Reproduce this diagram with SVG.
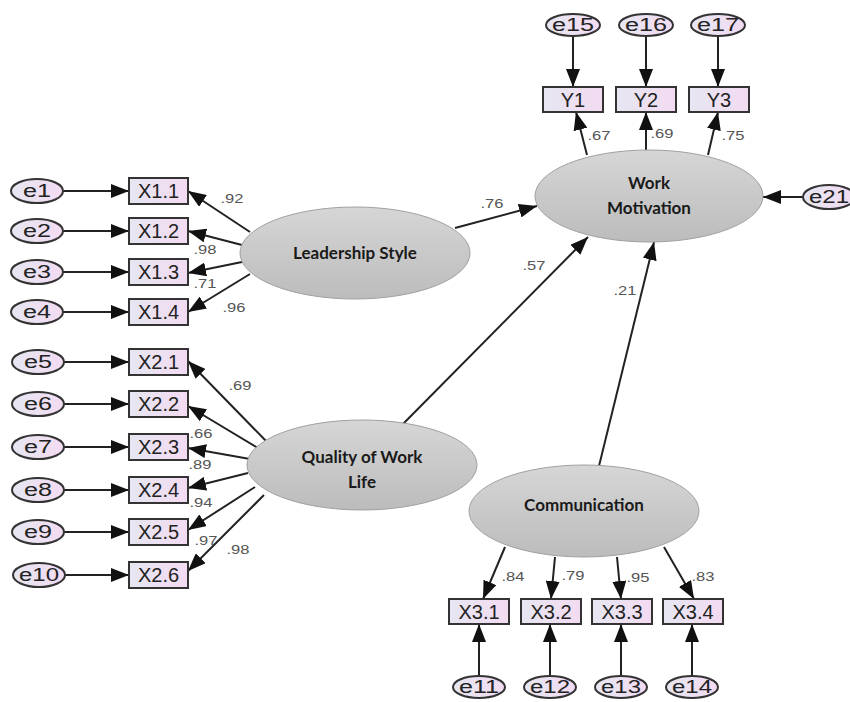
<svg xmlns="http://www.w3.org/2000/svg" width="850" height="702" viewBox="0 0 850 702">
<style>
.obs{fill:url(#gObs);stroke:#333;stroke-width:2}
.err{fill:url(#gObs);stroke:#333;stroke-width:2}
.lat{fill:url(#gLat);stroke:#a0a0a0;stroke-width:1}
.t{font-family:"Liberation Sans",Arial,sans-serif;font-size:20px;fill:#222;text-anchor:middle}
.te{font-family:"Liberation Sans",Arial,sans-serif;font-size:18px;fill:#222;text-anchor:middle}
.tl{font-family:Lato,"Open Sans",sans-serif;font-size:17px;font-weight:bold;fill:#1a1a1a;text-anchor:middle}
.n{font-family:"Liberation Sans",Arial,sans-serif;font-size:13px;fill:#555;text-anchor:middle}
.c{stroke:#222;stroke-width:2;fill:none;marker-end:url(#ah)}
</style>
<defs>
<linearGradient id="gObs" x1="0" y1="0" x2="1" y2="0"><stop offset="0" stop-color="#e6e6f2"/><stop offset="1" stop-color="#f3dbf1"/></linearGradient>
<linearGradient id="gLat" x1="0" y1="0" x2="0" y2="1"><stop offset="0" stop-color="#d6d6d6"/><stop offset="1" stop-color="#bcbcbc"/></linearGradient>
<marker id="ah" markerUnits="userSpaceOnUse" markerWidth="18" markerHeight="14" refX="18" refY="7" orient="auto"><path d="M0,0 L18,7 L0,14 z" fill="#111"/></marker>
</defs>
<rect width="850" height="702" fill="#fff"/>

<g id="connectors">
<line class="c" x1="63" y1="191" x2="129" y2="191"/>
<line class="c" x1="63" y1="231" x2="129" y2="231"/>
<line class="c" x1="63" y1="272" x2="129" y2="272"/>
<line class="c" x1="63" y1="312" x2="129" y2="312"/>
<line class="c" x1="64" y1="362" x2="129" y2="362"/>
<line class="c" x1="64" y1="404" x2="129" y2="404"/>
<line class="c" x1="64" y1="447" x2="129" y2="447"/>
<line class="c" x1="64" y1="490" x2="129" y2="490"/>
<line class="c" x1="64" y1="532" x2="129" y2="532"/>
<line class="c" x1="65" y1="575" x2="129" y2="575"/>
<line class="c" x1="250" y1="232" x2="188" y2="191"/>
<line class="c" x1="242" y1="245" x2="188" y2="231"/>
<line class="c" x1="242" y1="262" x2="188" y2="273"/>
<line class="c" x1="250" y1="274" x2="188" y2="312"/>
<line class="c" x1="267" y1="442" x2="188" y2="361"/>
<line class="c" x1="258" y1="448" x2="188" y2="406"/>
<line class="c" x1="250" y1="459" x2="188" y2="448"/>
<line class="c" x1="248" y1="473" x2="188" y2="488"/>
<line class="c" x1="255" y1="487" x2="188" y2="530"/>
<line class="c" x1="264" y1="495" x2="188" y2="571"/>
<line class="c" x1="455" y1="228" x2="537" y2="206"/>
<line class="c" x1="402" y1="425" x2="588" y2="237"/>
<line class="c" x1="599" y1="466" x2="654" y2="242"/>
<line class="c" x1="803" y1="197" x2="763" y2="197"/>
<line class="c" x1="587" y1="155" x2="576" y2="112"/>
<line class="c" x1="646" y1="150" x2="646" y2="112"/>
<line class="c" x1="708" y1="155" x2="718" y2="112"/>
<line class="c" x1="573" y1="36" x2="573" y2="87"/>
<line class="c" x1="646" y1="36" x2="646" y2="87"/>
<line class="c" x1="718" y1="36" x2="718" y2="87"/>
<line class="c" x1="505" y1="547" x2="483" y2="599"/>
<line class="c" x1="555" y1="557" x2="551" y2="599"/>
<line class="c" x1="617" y1="557" x2="621" y2="599"/>
<line class="c" x1="664" y1="547" x2="694" y2="599"/>
<line class="c" x1="479" y1="676" x2="479" y2="624"/>
<line class="c" x1="550" y1="676" x2="550" y2="624"/>
<line class="c" x1="621" y1="676" x2="621" y2="624"/>
<line class="c" x1="692" y1="676" x2="692" y2="624"/>

<text class="n" x="232" y="203" textLength="23" lengthAdjust="spacingAndGlyphs">.92</text>
<text class="n" x="205" y="254" textLength="23" lengthAdjust="spacingAndGlyphs">.98</text>
<text class="n" x="205" y="288" textLength="23" lengthAdjust="spacingAndGlyphs">.71</text>
<text class="n" x="234" y="312" textLength="23" lengthAdjust="spacingAndGlyphs">.96</text>
<text class="n" x="240" y="390" textLength="23" lengthAdjust="spacingAndGlyphs">.69</text>
<text class="n" x="201" y="438" textLength="23" lengthAdjust="spacingAndGlyphs">.66</text>
<text class="n" x="200" y="469" textLength="23" lengthAdjust="spacingAndGlyphs">.89</text>
<text class="n" x="201" y="507" textLength="23" lengthAdjust="spacingAndGlyphs">.94</text>
<text class="n" x="206" y="545" textLength="23" lengthAdjust="spacingAndGlyphs">.97</text>
<text class="n" x="238" y="554" textLength="23" lengthAdjust="spacingAndGlyphs">.98</text>
<text class="n" x="492" y="208" textLength="23" lengthAdjust="spacingAndGlyphs">.76</text>
<text class="n" x="534" y="270" textLength="23" lengthAdjust="spacingAndGlyphs">.57</text>
<text class="n" x="625" y="295" textLength="23" lengthAdjust="spacingAndGlyphs">.21</text>
<text class="n" x="599" y="140" textLength="23" lengthAdjust="spacingAndGlyphs">.67</text>
<text class="n" x="662" y="138" textLength="23" lengthAdjust="spacingAndGlyphs">.69</text>
<text class="n" x="733" y="140" textLength="23" lengthAdjust="spacingAndGlyphs">.75</text>
<text class="n" x="513" y="581" textLength="23" lengthAdjust="spacingAndGlyphs">.84</text>
<text class="n" x="573" y="580" textLength="23" lengthAdjust="spacingAndGlyphs">.79</text>
<text class="n" x="638" y="582" textLength="23" lengthAdjust="spacingAndGlyphs">.95</text>
<text class="n" x="703" y="581" textLength="23" lengthAdjust="spacingAndGlyphs">.83</text>
</g>

<g id="leadership"><ellipse class="lat" cx="355" cy="253" rx="115" ry="46"/><text class="tl" x="355" y="259">Leadership Style</text></g>
<g id="qwl"><ellipse class="lat" cx="362" cy="465" rx="115" ry="45"/><text class="tl" x="362" y="463">Quality of Work</text><text class="tl" x="362" y="488">Life</text></g>
<g id="motivation"><ellipse class="lat" cx="649" cy="196" rx="114" ry="46"/><text class="tl" x="649" y="189">Work</text><text class="tl" x="649" y="214">Motivation</text></g>
<g id="communication"><ellipse class="lat" cx="584" cy="511" rx="115" ry="46"/><text class="tl" x="584" y="511">Communication</text></g>

<g id="X1.1"><rect class="obs" x="129" y="178" width="59" height="26"/><text class="t" x="158.5" y="198">X1.1</text></g>
<g id="X1.2"><rect class="obs" x="129" y="218" width="59" height="26"/><text class="t" x="158.5" y="238">X1.2</text></g>
<g id="X1.3"><rect class="obs" x="129" y="259" width="59" height="26"/><text class="t" x="158.5" y="279">X1.3</text></g>
<g id="X1.4"><rect class="obs" x="129" y="299" width="59" height="26"/><text class="t" x="158.5" y="319">X1.4</text></g>
<g id="e1"><ellipse class="err" cx="37" cy="191" rx="26" ry="12"/><text class="te" x="37" y="197" textLength="28" lengthAdjust="spacingAndGlyphs">e1</text></g>
<g id="e2"><ellipse class="err" cx="37" cy="231" rx="26" ry="12"/><text class="te" x="37" y="237" textLength="28" lengthAdjust="spacingAndGlyphs">e2</text></g>
<g id="e3"><ellipse class="err" cx="37" cy="272" rx="26" ry="12"/><text class="te" x="37" y="278" textLength="28" lengthAdjust="spacingAndGlyphs">e3</text></g>
<g id="e4"><ellipse class="err" cx="37" cy="312" rx="26" ry="12"/><text class="te" x="37" y="318" textLength="28" lengthAdjust="spacingAndGlyphs">e4</text></g>

<g id="X2.1"><rect class="obs" x="129" y="349" width="59" height="26"/><text class="t" x="158.5" y="369">X2.1</text></g>
<g id="X2.2"><rect class="obs" x="129" y="391" width="59" height="26"/><text class="t" x="158.5" y="411">X2.2</text></g>
<g id="X2.3"><rect class="obs" x="129" y="434" width="59" height="26"/><text class="t" x="158.5" y="454">X2.3</text></g>
<g id="X2.4"><rect class="obs" x="129" y="477" width="59" height="26"/><text class="t" x="158.5" y="497">X2.4</text></g>
<g id="X2.5"><rect class="obs" x="129" y="519" width="59" height="26"/><text class="t" x="158.5" y="539">X2.5</text></g>
<g id="X2.6"><rect class="obs" x="129" y="562" width="59" height="26"/><text class="t" x="158.5" y="582">X2.6</text></g>
<g id="e5"><ellipse class="err" cx="38" cy="362" rx="26" ry="12"/><text class="te" x="38" y="368" textLength="28" lengthAdjust="spacingAndGlyphs">e5</text></g>
<g id="e6"><ellipse class="err" cx="38" cy="404" rx="26" ry="12"/><text class="te" x="38" y="410" textLength="28" lengthAdjust="spacingAndGlyphs">e6</text></g>
<g id="e7"><ellipse class="err" cx="38" cy="447" rx="26" ry="12"/><text class="te" x="38" y="453" textLength="28" lengthAdjust="spacingAndGlyphs">e7</text></g>
<g id="e8"><ellipse class="err" cx="38" cy="490" rx="26" ry="12"/><text class="te" x="38" y="496" textLength="28" lengthAdjust="spacingAndGlyphs">e8</text></g>
<g id="e9"><ellipse class="err" cx="38" cy="532" rx="26" ry="12"/><text class="te" x="38" y="538" textLength="28" lengthAdjust="spacingAndGlyphs">e9</text></g>
<g id="e10"><ellipse class="err" cx="39" cy="575" rx="26" ry="12"/><text class="te" x="39" y="581" textLength="40" lengthAdjust="spacingAndGlyphs">e10</text></g>

<g id="Y1"><rect class="obs" x="543" y="87" width="60" height="25"/><text class="t" x="573" y="107">Y1</text></g>
<g id="Y2"><rect class="obs" x="616" y="87" width="60" height="25"/><text class="t" x="646" y="107">Y2</text></g>
<g id="Y3"><rect class="obs" x="689" y="87" width="60" height="25"/><text class="t" x="719" y="107">Y3</text></g>
<g id="e15"><ellipse class="err" cx="573" cy="25" rx="27" ry="11"/><text class="te" x="573" y="31" textLength="42" lengthAdjust="spacingAndGlyphs">e15</text></g>
<g id="e16"><ellipse class="err" cx="646" cy="25" rx="27" ry="11"/><text class="te" x="646" y="31" textLength="42" lengthAdjust="spacingAndGlyphs">e16</text></g>
<g id="e17"><ellipse class="err" cx="718" cy="25" rx="27" ry="11"/><text class="te" x="718" y="31" textLength="42" lengthAdjust="spacingAndGlyphs">e17</text></g>
<g id="e21"><ellipse class="err" cx="829" cy="197" rx="26" ry="12"/><text class="te" x="829" y="203" textLength="40" lengthAdjust="spacingAndGlyphs">e21</text></g>

<g id="X3.1"><rect class="obs" x="449" y="599" width="60" height="25"/><text class="t" x="479" y="619">X3.1</text></g>
<g id="X3.2"><rect class="obs" x="521" y="599" width="60" height="25"/><text class="t" x="551" y="619">X3.2</text></g>
<g id="X3.3"><rect class="obs" x="592" y="599" width="60" height="25"/><text class="t" x="622" y="619">X3.3</text></g>
<g id="X3.4"><rect class="obs" x="663" y="599" width="60" height="25"/><text class="t" x="693" y="619">X3.4</text></g>
<g id="e11"><ellipse class="err" cx="479" cy="687" rx="26" ry="11"/><text class="te" x="479" y="693" textLength="40" lengthAdjust="spacingAndGlyphs">e11</text></g>
<g id="e12"><ellipse class="err" cx="550" cy="687" rx="26" ry="11"/><text class="te" x="550" y="693" textLength="40" lengthAdjust="spacingAndGlyphs">e12</text></g>
<g id="e13"><ellipse class="err" cx="621" cy="687" rx="26" ry="11"/><text class="te" x="621" y="693" textLength="40" lengthAdjust="spacingAndGlyphs">e13</text></g>
<g id="e14"><ellipse class="err" cx="692" cy="687" rx="26" ry="11"/><text class="te" x="692" y="693" textLength="40" lengthAdjust="spacingAndGlyphs">e14</text></g>
</svg>
